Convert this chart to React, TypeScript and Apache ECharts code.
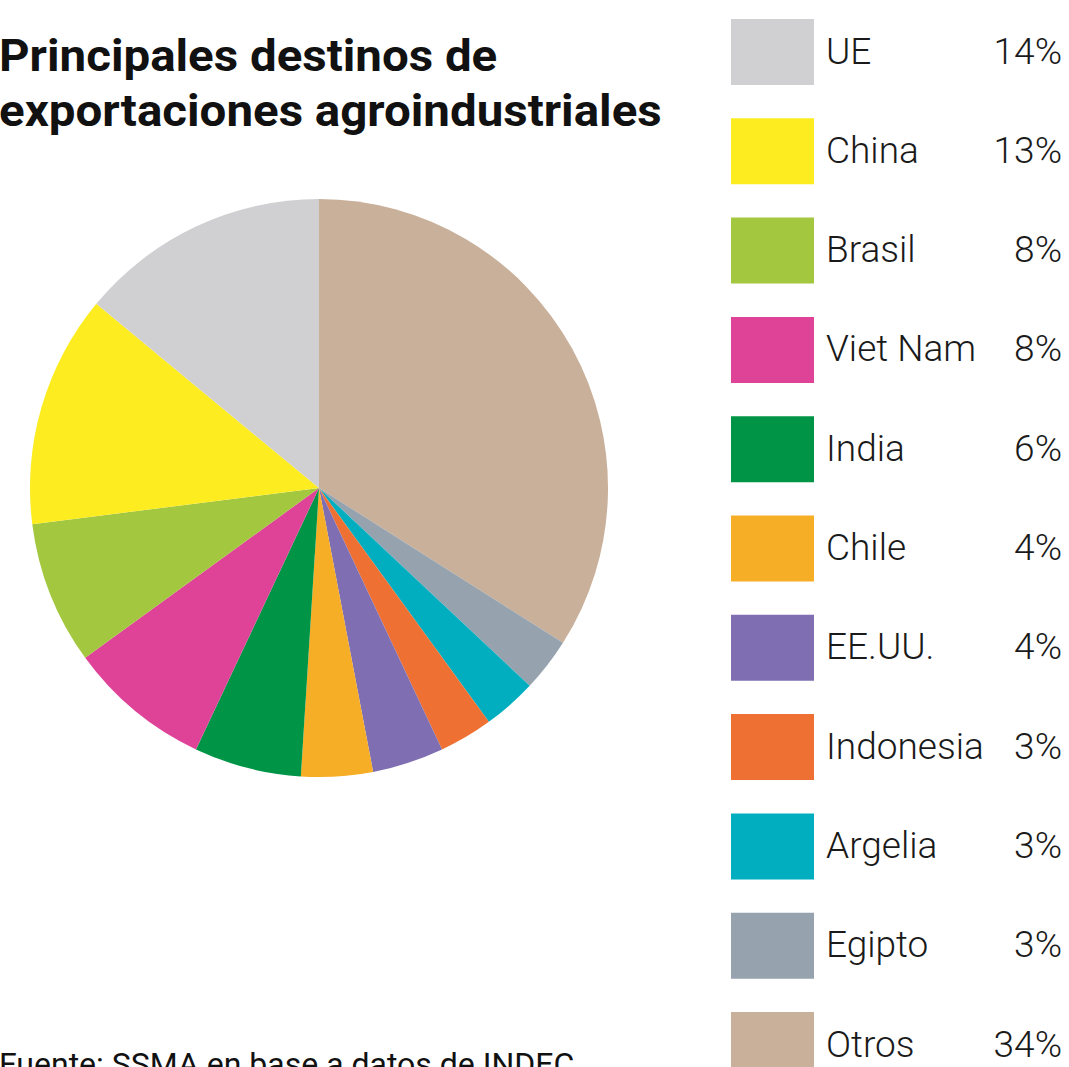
import React, { useEffect, useRef } from "react";
import * as echarts from "echarts";

const names = ["Otros", "Egipto", "Argelia", "Indonesia", "EE.UU.", "Chile", "India", "Viet Nam", "Brasil", "China", "UE"];
const values = [34, 3, 3, 3, 4, 4, 6, 8, 8, 13, 14];
const colors = ["#C8B09A", "#96A2AE", "#00AEC0", "#EE7133", "#7F6FB2", "#F5AE26", "#009446", "#DF4398", "#A3C73F", "#FCEC20", "#D0D0D2"];
const legendOrder = ["UE", "China", "Brasil", "Viet Nam", "India", "Chile", "EE.UU.", "Indonesia", "Argelia", "Egipto", "Otros"];
const titleLines = ["Principales destinos de", "exportaciones agroindustriales"];
const sourceText = "Fuente: SSMA en base a datos de INDEC";

export default function App() {
  const ref = useRef<HTMLDivElement>(null);
  useEffect(() => {
    if (!ref.current) return;
    const chart = echarts.init(ref.current, null, { renderer: "svg" });
    const valueOf: Record<string, number> = {};
    const colorOf: Record<string, string> = {};
    names.forEach((n, i) => {
      valueOf[n] = values[i];
      colorOf[n] = colors[i];
    });
    const legendItems: any[] = [];
    legendOrder.forEach((n, i) => {
      const top = 19 + i * 99.3;
      legendItems.push(
        { type: "rect", shape: { x: 731, y: top, width: 83, height: 66 }, style: { fill: colorOf[n] }, silent: true },
        {
          type: "text",
          x: 826,
          y: top + 32,
          silent: true,
          style: { text: n, font: "300 37px Roboto", fill: "#1a1a1a", align: "left", verticalAlign: "middle" },
        },
        {
          type: "text",
          x: 1062,
          y: top + 32,
          silent: true,
          style: { text: `${valueOf[n]}%`, font: "300 37px Roboto", fill: "#1a1a1a", align: "right", verticalAlign: "middle" },
        }
      );
    });
    chart.setOption({
      animation: false,
      backgroundColor: "#ffffff",
      graphic: [
        {
          type: "text",
          x: -1,
          y: 55,
          scaleX: 1.055,
          silent: true,
          style: { text: titleLines[0], font: "700 45px Roboto", fill: "#111", verticalAlign: "middle" },
        },
        {
          type: "text",
          x: -1,
          y: 110,
          scaleX: 1.055,
          silent: true,
          style: { text: titleLines[1], font: "700 45px Roboto", fill: "#111", verticalAlign: "middle" },
        },
        {
          type: "text",
          x: -1,
          y: 1064,
          silent: true,
          style: { text: sourceText, font: "400 32px Roboto", fill: "#111", verticalAlign: "middle" },
        },
        ...legendItems,
      ],
      series: [
        {
          type: "pie",
          center: [319, 488],
          radius: [0, 289],
          startAngle: 90,
          clockwise: true,
          label: { show: false },
          labelLine: { show: false },
          silent: true,
          itemStyle: { borderWidth: 0 },
          data: names.map((n, i) => ({ name: n, value: values[i], itemStyle: { color: colors[i] } })),
        },
      ],
    });
    return () => chart.dispose();
  }, []);
  return <div ref={ref} style={{ position: "absolute", left: 0, top: 0, width: 1069, height: 1067 }} />;
}
